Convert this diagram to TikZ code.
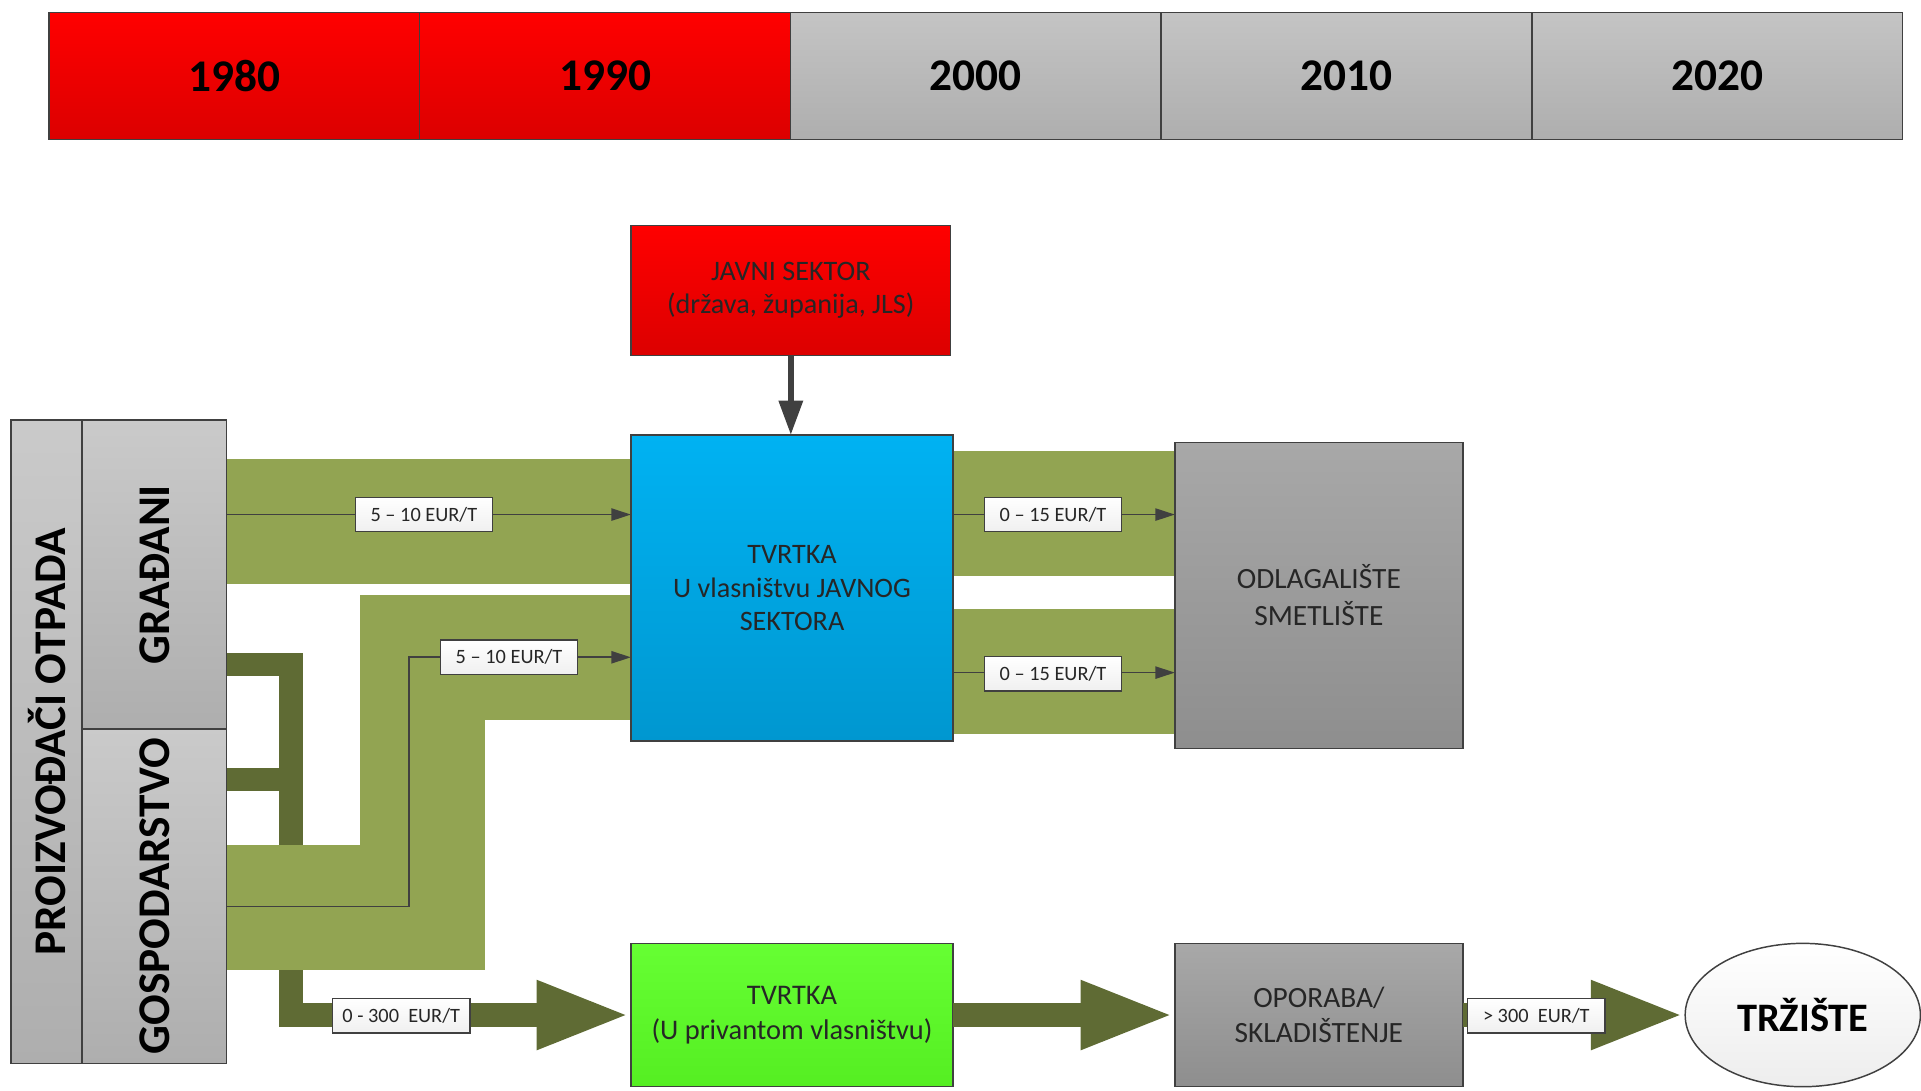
\documentclass[tikz,border=0pt]{standalone}
\usepackage{fontspec}
\setmainfont{Carlito}
\usetikzlibrary{positioning,shapes.geometric,arrows.meta,backgrounds}

\definecolor{crvenaG}{HTML}{FF0000}
\definecolor{crvenaD}{HTML}{DC0000}
\definecolor{sivaG}{HTML}{C4C4C4}
\definecolor{sivaD}{HTML}{AEAEAE}
\definecolor{tamnosivaG}{HTML}{A8A8A8}
\definecolor{tamnosivaD}{HTML}{8E8E8E}
\definecolor{plavaG}{HTML}{00B2F2}
\definecolor{plavaD}{HTML}{0097D0}
\definecolor{zelenaG}{HTML}{66FF33}
\definecolor{zelenaD}{HTML}{55EE22}
\definecolor{pojas}{HTML}{92A452}
\definecolor{maslina}{HTML}{5F6B34}
\definecolor{rub}{HTML}{404040}
\definecolor{tekst}{HTML}{262626}

\begin{document}
\begin{tikzpicture}[x=0.5pt,y=-0.5pt,
  okvir/.style={draw=rub, line width=0.6pt, inner sep=0pt, outer sep=0pt, text=tekst, align=center},
  godina/.style={okvir, minimum width=151.3pt, minimum height=52pt, text=black, font=\fontsize{18.5}{22}\selectfont\bfseries},
  crvena/.style={top color=crvenaG, bottom color=crvenaD},
  siva/.style={top color=sivaG, bottom color=sivaD},
  tamnosiva/.style={top color=tamnosivaG, bottom color=tamnosivaD},
  lijevi/.style={okvir, top color=sivaG!90, bottom color=sivaD, text=black, font=\fontsize{18.5}{22}\selectfont\bfseries},
  kutija/.style={okvir, font=\fontsize{11.5}{13.75}\selectfont},
  cijena/.style={draw=rub, line width=0.6pt, top color=white, bottom color=gray!12, minimum width=56pt, minimum height=14pt, inner sep=0pt, text=tekst, font=\fontsize{8.3}{10}\selectfont},
  svijetla/.style={draw=pojas, line width=51pt, line join=miter},
  tamna/.style={draw=maslina, line width=9.5pt, line join=miter},
  debela/.style={tamna, -{Triangle[length=38.5pt,width=25.5pt]}},
  tanka/.style={draw=rub, line width=0.7pt, -{Triangle[length=8pt,width=5pt]}}
]
\useasboundingbox (0,0) rectangle (1568,890);

% vremenska crta
\node[godina, crvena] (g1980) at (191.3,62) {1980};
\node[godina, crvena] (g1990) at (493.9,62) {1990};
\node[godina, siva] (g2000) at (796.5,62) {2000};
\node[godina, siva] (g2010) at (1099.1,62) {2010};
\node[godina, siva] (g2020) at (1401.7,62) {2020};

% proizvodjaci
\node[lijevi, minimum width=29pt, minimum height=262.5pt] (proizv) at (38,605.5) {\rotatebox{90}{PROIZVOĐAČI OTPADA}};
\node[lijevi, minimum width=59pt, minimum height=126pt] (gradjani) at (126,469) {\rotatebox{90}{GRAĐANI}};
\node[lijevi, minimum width=59pt, minimum height=136.5pt] (gospodarstvo) at (126,731.5) {\rotatebox{90}{GOSPODARSTVO}};

% sudionici
\node[kutija, crvena, minimum width=130.5pt, minimum height=53pt] (javni) at (645.5,237) {JAVNI SEKTOR\\(država, županija, JLS)};
\node[kutija, top color=plavaG, bottom color=plavaD, minimum width=131.5pt, minimum height=125pt] (javna) at (646.5,480) {TVRTKA\\U vlasništvu JAVNOG\\SEKTORA};
\node[kutija, tamnosiva, minimum width=117.5pt, minimum height=125pt, font=\fontsize{12}{15}\selectfont] (odlag) at (1076.5,486) {ODLAGALIŠTE\\SMETLIŠTE};
\node[kutija, top color=zelenaG, bottom color=zelenaD, minimum width=131.5pt, minimum height=58.5pt, font=\fontsize{11.6}{14.5}\selectfont] (privatna) at (646.5,828.5) {TVRTKA\\(U privantom vlasništvu)};
\node[kutija, tamnosiva, minimum width=117.5pt, minimum height=58.5pt, font=\fontsize{12}{14.5}\selectfont] (oporaba) at (1076.5,828.5) {OPORABA/\\SKLADIŠTENJE};
\node[okvir, ellipse, top color=white, bottom color=gray!14, minimum width=96pt, minimum height=58.5pt, text=black, font=\fontsize{16.5}{20}\selectfont\bfseries] (trziste) at (1471.5,828.5) {TRŽIŠTE};

% tokovi otpada
\begin{scope}[on background layer]
\draw[debela] (gradjani.east |- 0,542.5) -| (237.5,828.5) -- (privatna.west);
\draw[tamna] (gospodarstvo.east |- 0,636) -- (237.5,636);
\draw[svijetla] (gradjani.east |- 0,425.5) -- (javna.west |- 0,425.5);
\draw[svijetla] (gospodarstvo.east |- 0,741) -| (345,536.5) -- (javna.west |- 0,536.5);
\draw[svijetla] (javna.east |- 0,419) -- (odlag.west |- 0,419);
\draw[svijetla] (javna.east |- 0,548) -- (odlag.west |- 0,548);
\end{scope}

\draw[draw=rub, line width=2.3pt, -{Triangle[length=14pt,width=9.5pt]}] (javni.south) -- (javni.south |- javna.north);
\draw[tanka] (gradjani.east |- 0,420) -- (javna.west |- 0,420);
\draw[tanka] (gospodarstvo.east |- 0,740) -| (334,536.5) -- (javna.west |- 0,536.5);
\draw[tanka] (javna.east |- 0,420) -- (odlag.west |- 0,420);
\draw[tanka] (javna.east |- 0,549) -- (odlag.west |- 0,549);
\draw[debela] (privatna) -- (oporaba);
\draw[debela] (oporaba) -- (trziste);

% cijene
\node[cijena] (c1) at (346,420) {5 – 10 EUR/T};
\node[cijena] (c2) at (415.5,536.5) {5 – 10 EUR/T};
\node[cijena] (c3) at (859.5,420) {0 – 15 EUR/T};
\node[cijena] (c4) at (859.5,550) {0 – 15 EUR/T};
\node[cijena] (c5) at (327.5,829) {0 - 300\ \ EUR/T};
\node[cijena] (c6) at (1254,829) {> 300\ \ EUR/T};
\end{tikzpicture}
\end{document}
